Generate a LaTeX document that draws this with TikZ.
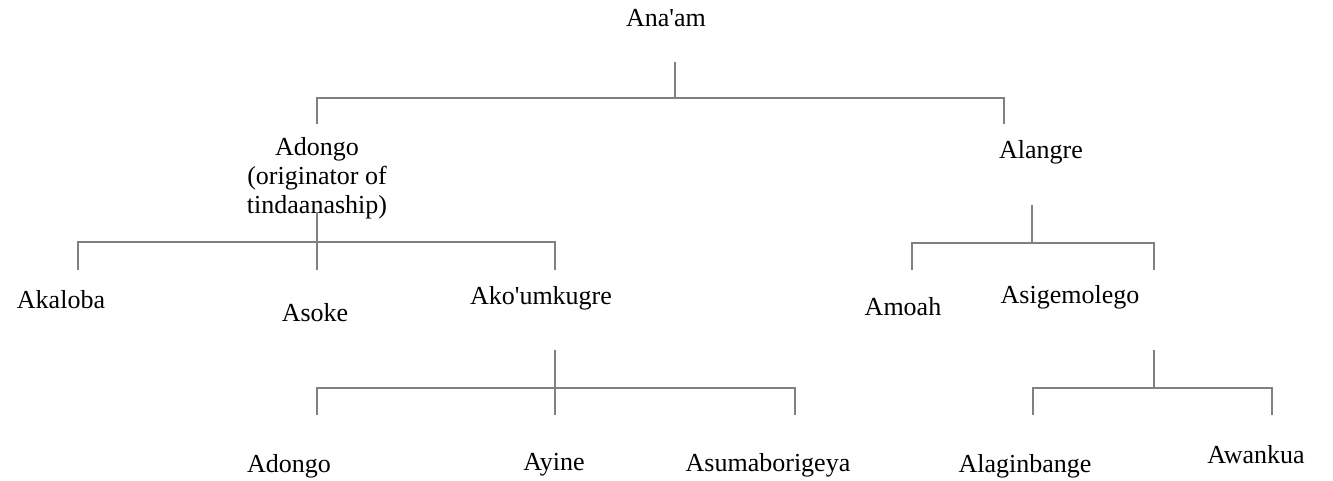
\documentclass[tikz,border=0pt]{standalone}
\usepackage{fontspec}
\setmainfont{Liberation Serif}
\usetikzlibrary{positioning}

\begin{document}
\begin{tikzpicture}
    [
        x=0.75pt, y=-0.75pt,
        person/.style = {
            inner sep=0pt, font=\fontsize{19.5}{21.75}\selectfont, align=center
            },
        branch/.style = {
            draw=black!50, line width=1.1pt
            },
    ]
    \useasboundingbox (0,0) rectangle (1333,480);
    %nodes
    \node[person] (root) at (666,18) {Ana\textquotesingle am};
    \node[person] (adongo) at (317,178) {Adongo\\(originator of\\tindaanaship)};
    \node[person] (alangre) at (1041,152) {Alangre};
    \node[person] (akaloba) at (61,300) {Akaloba};
    \node[person] (asoke) at (315,313) {Asoke};
    \node[person] (akoumkugre) at (541,298) {Ako\textquotesingle umkugre};
    \node[person] (amoah) at (903,307) {Amoah};
    \node[person] (asigemolego) at (1070,297) {Asigemolego};
    \node[person] (adongoII) at (289,466) {Adongo};
    \node[person] (ayine) at (554,465) {Ayine};
    \node[person] (asumaborigeya) at (768,465) {Asumaborigeya};
    \node[person] (alaginbange) at (1025,466) {Alaginbange};
    \node[person] (awankua) at (1256,455) {Awankua};
    %junctions
    \coordinate (root-stem) at (675,62);
    \coordinate (root-bar) at (675,98);
    \coordinate (adongo-drop) at (317,124);
    \coordinate (alangre-drop) at (1004,124);
    \coordinate (adongo-stem) at (317,212);
    \coordinate (adongo-bar) at (317,242);
    \coordinate (akaloba-drop) at (78,270);
    \coordinate (asoke-drop) at (317,270);
    \coordinate (akoumkugre-drop) at (555,270);
    \coordinate (alangre-stem) at (1032,205);
    \coordinate (alangre-bar) at (1032,243);
    \coordinate (amoah-drop) at (912,270);
    \coordinate (asigemolego-drop) at (1154,270);
    \coordinate (akoumkugre-stem) at (555,350);
    \coordinate (akoumkugre-bar) at (555,388);
    \coordinate (adongoII-drop) at (317,415);
    \coordinate (ayine-drop) at (555,415);
    \coordinate (asumaborigeya-drop) at (795,415);
    \coordinate (asigemolego-stem) at (1154,350);
    \coordinate (asigemolego-bar) at (1154,388);
    \coordinate (alaginbange-drop) at (1033,415);
    \coordinate (awankua-drop) at (1272,415);
    %connecting nodes
    \draw[branch] (root-stem) -- (root-bar);
    \draw[branch] (adongo-drop) |- (root-bar) -| (alangre-drop);
    \draw[branch] (adongo-stem) -- (asoke-drop);
    \draw[branch] (akaloba-drop) |- (adongo-bar) -| (akoumkugre-drop);
    \draw[branch] (alangre-stem) -- (alangre-bar);
    \draw[branch] (amoah-drop) |- (alangre-bar) -| (asigemolego-drop);
    \draw[branch] (akoumkugre-stem) -- (ayine-drop);
    \draw[branch] (adongoII-drop) |- (akoumkugre-bar) -| (asumaborigeya-drop);
    \draw[branch] (asigemolego-stem) -- (asigemolego-bar);
    \draw[branch] (alaginbange-drop) |- (asigemolego-bar) -| (awankua-drop);
\end{tikzpicture}
\end{document}
